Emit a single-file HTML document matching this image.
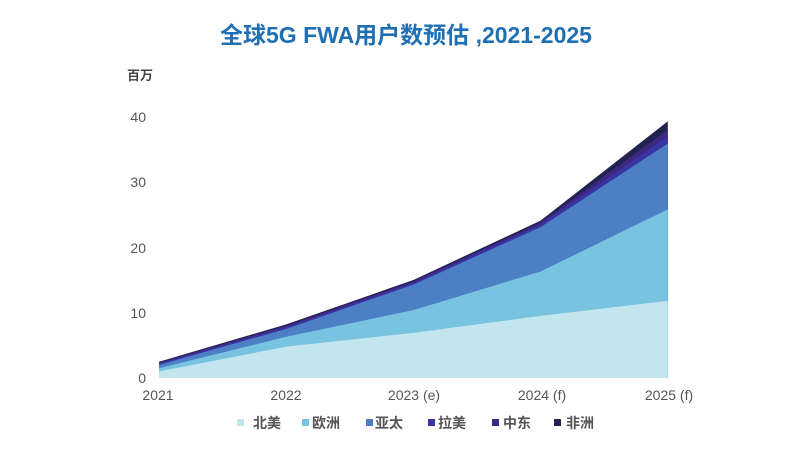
<!DOCTYPE html>
<html>
<head>
<meta charset="utf-8">
<style>
  html,body{margin:0;padding:0;background:#fff;}
  body{width:800px;height:450px;overflow:hidden;position:relative;font-family:"Liberation Sans","Noto Sans CJK SC",sans-serif;}
  svg{position:absolute;left:0;top:0;}
</style>
</head>
<body>
<svg width="800" height="450" viewBox="0 0 800 450" xmlns="http://www.w3.org/2000/svg">
  <text x="406" y="43" text-anchor="middle" font-family="Liberation Sans, Noto Sans CJK SC, sans-serif" font-size="23" font-weight="bold" fill="#1f6fb3">全球5G FWA用户数预估 ,2021-2025</text>

  <text x="127" y="80" font-family="Liberation Sans, Noto Sans CJK SC, sans-serif" font-size="13" font-weight="bold" fill="#444">百万</text>

  <g font-family="Liberation Sans, sans-serif" font-size="14" fill="#555" text-anchor="end">
    <text x="146" y="122">40</text>
    <text x="146" y="187">30</text>
    <text x="146" y="253">20</text>
    <text x="146" y="318">10</text>
    <text x="146" y="383">0</text>
  </g>

  <!-- stacked areas (cumulative, drawn largest first) -->
  <polygon fill="#222250" points="159,361.7 286.2,324.4 413.4,280.0 540.6,220.6 667.8,121.3 667.8,378 159,378"/>
  <polygon fill="#3d2880" points="159,362.6 286.2,325.7 413.4,281.3 540.6,222.5 667.8,129.7 667.8,378 159,378"/>
  <polygon fill="#3a34a3" points="159,363.6 286.2,327.0 413.4,282.6 540.6,224.5 667.8,136.3 667.8,378 159,378"/>
  <polygon fill="#4d7fc4" points="159,364.9 286.2,329.0 413.4,284.6 540.6,227.1 667.8,143.5 667.8,378 159,378"/>
  <polygon fill="#78c4e0" points="159,368.2 286.2,336.8 413.4,310.1 540.6,271.5 667.8,209.4 667.8,378 159,378"/>
  <polygon fill="#c3e5ee" points="159,371.5 286.2,346.6 413.4,332.9 540.6,315.9 667.8,300.9 667.8,378 159,378"/>

  <g font-family="Liberation Sans, sans-serif" font-size="14" fill="#555" text-anchor="middle">
    <text x="158" y="400">2021</text>
    <text x="286" y="400">2022</text>
    <text x="414" y="400">2023 (e)</text>
    <text x="542" y="400">2024 (f)</text>
    <text x="669" y="400">2025 (f)</text>
  </g>

  <g font-family="Liberation Sans, Noto Sans CJK SC, sans-serif" font-size="14" font-weight="bold" fill="#555">
    <rect x="237" y="419" width="7" height="7" fill="#c3e5ee"/>
    <text x="253" y="428">北美</text>
    <rect x="302" y="419" width="7" height="7" fill="#78c4e0"/>
    <text x="312" y="428">欧洲</text>
    <rect x="366" y="419" width="7" height="7" fill="#4d7fc4"/>
    <text x="375" y="428">亚太</text>
    <rect x="428" y="419" width="7" height="7" fill="#3a34a3"/>
    <text x="438" y="428">拉美</text>
    <rect x="492" y="419" width="7" height="7" fill="#3d2880"/>
    <text x="503" y="428">中东</text>
    <rect x="554" y="419" width="7" height="7" fill="#222250"/>
    <text x="566" y="428">非洲</text>
  </g>
</svg>
</body>
</html>
